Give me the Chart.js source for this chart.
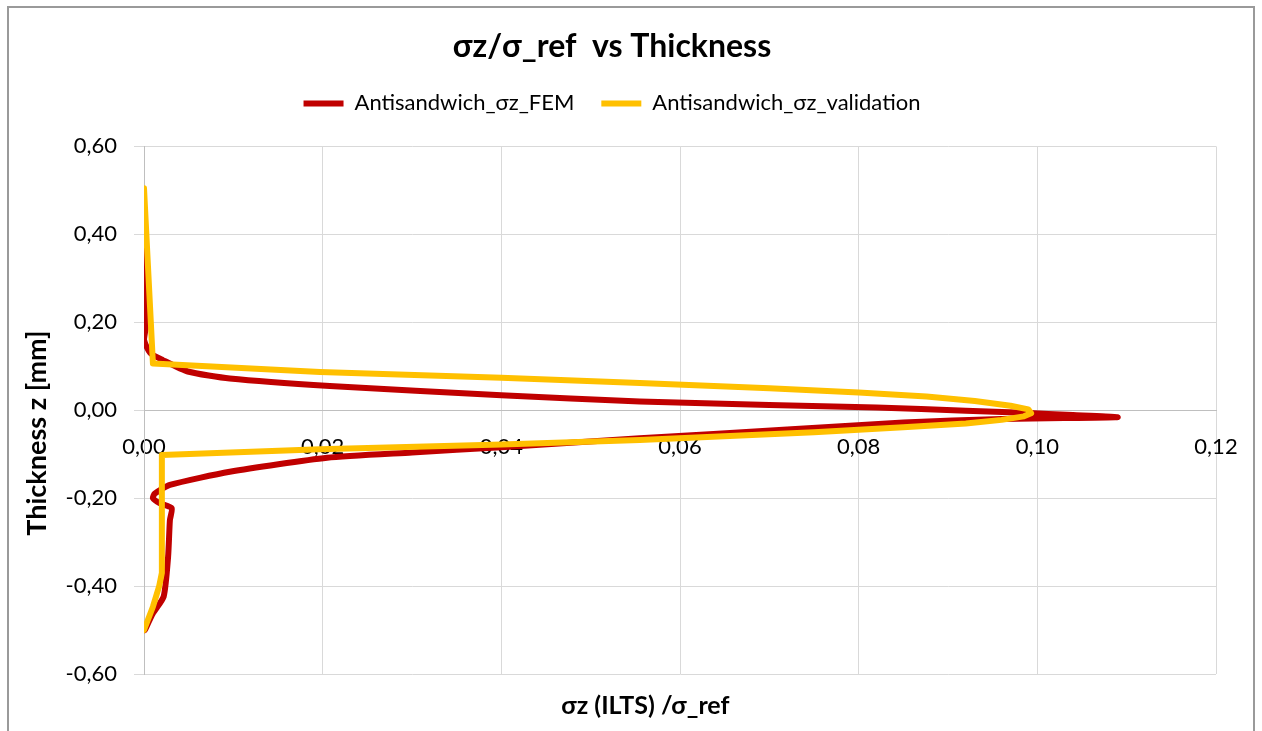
<!DOCTYPE html>
<html>
<head>
<meta charset="utf-8">
<title>σz/σ_ref vs Thickness</title>
<script src="https://cdn.jsdelivr.net/npm/chart.js"></script>
<style>
    html, body { margin: 0; padding: 0; background: #ffffff; }
    #wrap { position: relative; width: 1262px; height: 731px; overflow: hidden; }
    #frame {
        position: absolute; left: 7px; top: 6px; width: 1248px; height: 760px;
        border: 2px solid #9a9a9a; box-sizing: border-box;
    }
    #chart { position: absolute; left: 0; top: 0; }
</style>
</head>
<body>
<div id="wrap">
    <div id="frame"></div>
    <canvas id="chart" width="1262" height="731"></canvas>
</div>
<script>
// values
var femX = [0, 0, 0.0001, 0.0002, 0, 0.0007, 0.0021, 0.0049, 0.0096, 0.0208, 0.040, 0.0555, 0.070, 0.082, 0.092, 0.0985, 0.104, 0.109,
    0.103, 0.096, 0.085, 0.072, 0.0555, 0.040, 0.030, 0.0205, 0.0096, 0.0029, 0.0012, 0.001, 0.0018, 0.0031, 0.0029, 0.0027, 0.0022, 0.001, 0.0001];
var femY = [0.50, 0.40, 0.25, 0.19, 0.16, 0.13, 0.114, 0.088, 0.072, 0.055, 0.034, 0.020, 0.012, 0.006, -0.001, -0.006, -0.011, -0.016,
    -0.018, -0.020, -0.028, -0.044, -0.064, -0.084, -0.096, -0.108, -0.14, -0.17, -0.19, -0.20, -0.212, -0.223, -0.25, -0.333, -0.424, -0.462, -0.50];

var valX = [0, 0.001, 0.0197, 0.040, 0.0555, 0.070, 0.080, 0.0876, 0.093, 0.097, 0.0990, 0.0993, 0.0985, 0.096, 0.092, 0.085, 0.075,
    0.0555, 0.040, 0.0197, 0.002, 0.002, 0.0017, 0.001, 0];
var valY = [0.505, 0.106, 0.087, 0.074, 0.062, 0.050, 0.040, 0.031, 0.021, 0.010, 0.002, -0.007, -0.014, -0.022, -0.030, -0.039, -0.050,
    -0.068, -0.078, -0.089, -0.102, -0.37, -0.40, -0.447, -0.50];

var seriesNames = ['Antisandwich_σz_FEM', 'Antisandwich_σz_validation'];
var xTicks = { min: 0, max: 0.12, step: 0.02 };
var yTicks = { min: -0.6, max: 0.6, step: 0.2 };

var fontFamily = "Lato, 'Noto Sans', 'DejaVu Sans', sans-serif";
var gridColor = '#d9d9d9';

function toPoints(xs, ys) {
    var pts = [];
    for (var i = 0; i < xs.length; i++) {
        pts.push({ x: xs[i], y: ys[i] });
    }
    return pts;
}

function commaFormat(value) {
    return Number(value).toFixed(2).replace('.', ',');
}

// legend has no bottom spacing option, so stretch it a bit
var legendGap = {
    id: 'legendGap',
    beforeInit: function (chart) {
        var fit = chart.legend.fit;
        chart.legend.fit = function () {
            fit.call(this);
            this.height += 22;
        };
    }
};

new Chart(document.getElementById('chart'), {
    type: 'scatter',
    data: {
        datasets: [
            {
                label: seriesNames[0],
                data: toPoints(femX, femY),
                showLine: true,
                borderColor: '#c00000',
                backgroundColor: '#c00000',
                borderWidth: 6,
                borderCapStyle: 'round',
                borderJoinStyle: 'round',
                pointRadius: 0,
                tension: 0.2,
                order: 2
            },
            {
                label: seriesNames[1],
                data: toPoints(valX, valY),
                showLine: true,
                borderColor: '#ffc000',
                backgroundColor: '#ffc000',
                borderWidth: 6,
                borderCapStyle: 'round',
                borderJoinStyle: 'round',
                pointRadius: 0,
                tension: 0,
                order: 1
            }
        ]
    },
    options: {
        responsive: false,
        animation: false,
        layout: {
            padding: { left: 8, right: 46, top: 8, bottom: 10 }
        },
        plugins: {
            title: {
                display: true,
                text: 'σz/σ_ref  vs Thickness',
                color: '#000000',
                font: { family: fontFamily, size: 32, weight: 'bold' },
                padding: { top: 19, bottom: 0 }
            },
            subtitle: {
                display: true,
                position: 'bottom',
                // leading spaces push the axis title a little right, as in the original
                text: '           σz (ILTS) /σ_ref',
                color: '#000000',
                font: { family: fontFamily, size: 25, weight: 'bold' },
                padding: { top: 17, bottom: 0 }
            },
            legend: {
                display: true,
                position: 'top',
                labels: {
                    color: '#000000',
                    font: { family: fontFamily, size: 22 },
                    usePointStyle: true,
                    pointStyle: 'line',
                    pointStyleWidth: 40,
                    padding: 27,
                    sort: function (a, b) { return a.datasetIndex - b.datasetIndex; }
                }
            },
            tooltip: { enabled: false }
        },
        scales: {
            x: {
                type: 'linear',
                position: { y: 0 },
                min: xTicks.min,
                max: xTicks.max,
                ticks: {
                    stepSize: xTicks.step,
                    color: '#000000',
                    font: { family: fontFamily, size: 22 },
                    padding: 24,
                    maxRotation: 0,
                    callback: commaFormat
                },
                grid: { color: gridColor, lineWidth: 1, drawTicks: false },
                border: { color: '#bfbfbf', width: 1 }
            },
            y: {
                type: 'linear',
                position: 'left',
                min: yTicks.min,
                max: yTicks.max,
                ticks: {
                    stepSize: yTicks.step,
                    color: '#000000',
                    font: { family: fontFamily, size: 22 },
                    padding: 17,
                    callback: commaFormat
                },
                grid: { color: gridColor, lineWidth: 1, drawTicks: true, tickLength: 10, tickColor: gridColor },
                border: { color: '#bfbfbf', width: 1 },
                title: {
                    display: true,
                    // trailing spaces nudge the rotated title down like the original
                    text: 'Thickness z [mm]       ',
                    color: '#000000',
                    font: { family: fontFamily, size: 27, weight: 'bold' },
                    padding: { top: 13, bottom: 0 }
                },
                afterFit: function (scale) {
                    scale.width = 136;
                }
            }
        }
    },
    plugins: [legendGap]
});
</script>
</body>
</html>
